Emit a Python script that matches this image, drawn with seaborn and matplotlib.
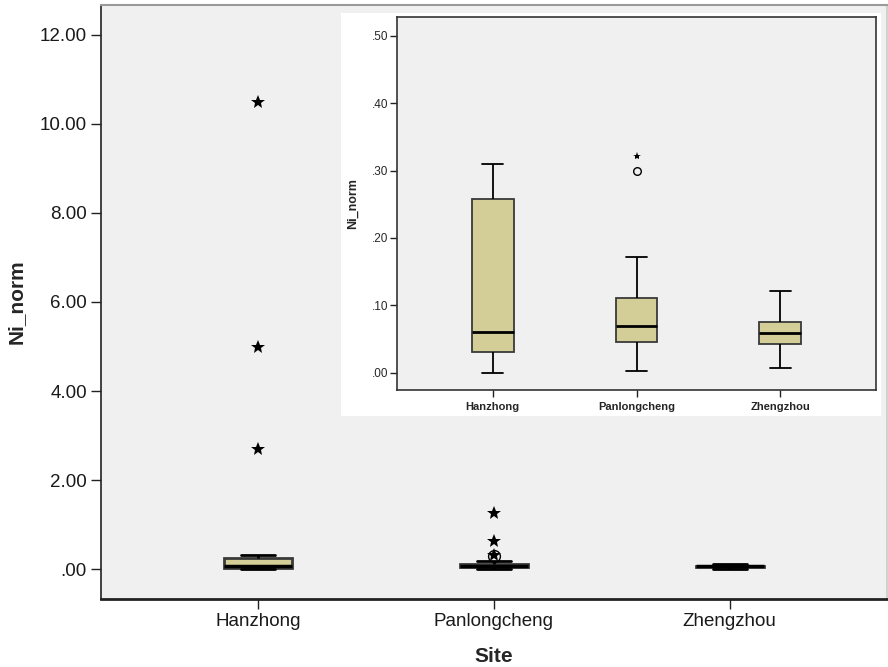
import numpy as np
import pandas as pd
import matplotlib
matplotlib.use("Agg")
import matplotlib.pyplot as plt
import seaborn as sns

# values (quartiles / whiskers / outliers per site)
sites = ["Hanzhong", "Panlongcheng", "Zhengzhou"]
hanzhong = [0.000, 0.008, 0.015, 0.022, 0.031, 0.040, 0.048, 0.055, 0.060,
            0.090, 0.140, 0.200, 0.258, 0.310, 2.70, 5.00, 10.50]
panlongcheng = [0.003, 0.015, 0.025, 0.033, 0.040, 0.046, 0.050, 0.055, 0.060,
                0.064, 0.069, 0.075, 0.082, 0.090, 0.100, 0.111, 0.171,
                0.300, 0.321, 0.620, 1.250]
zhengzhou = [0.0075, 0.020, 0.033, 0.042, 0.048, 0.054, 0.059, 0.064, 0.070,
             0.075, 0.090, 0.105, 0.121]

main_yticks = [0, 2, 4, 6, 8, 10, 12]
main_ylabels = [".00", "2.00", "4.00", "6.00", "8.00", "10.00", "12.00"]
inset_yticks = [0, 0.1, 0.2, 0.3, 0.4, 0.5]
inset_ylabels = [".00", ".10", ".20", ".30", ".40", ".50"]

df = pd.DataFrame({
    "Site": ["Hanzhong"] * len(hanzhong) + ["Panlongcheng"] * len(panlongcheng)
            + ["Zhengzhou"] * len(zhengzhou),
    "Ni_norm": hanzhong + panlongcheng + zhengzhou,
})

sns.set_theme(style="ticks")
plt.rcParams["font.family"] = ["Liberation Sans", "DejaVu Sans"]

box_color = "#D3CE97"
bg_color = "#F0F0F0"

W, H = 888, 667
fig = plt.figure(figsize=(W / 100, H / 100), dpi=100)
fig.patch.set_facecolor("white")


def px_rect(x0, y0, x1, y1):
    return [x0 / W, 1 - y1 / H, (x1 - x0) / W, (y1 - y0) / H]


def draw_boxes(ax, lw, med_lw, star_ms, circ_ms):
    sns.boxplot(data=df, x="Site", y="Ni_norm", order=sites, color=box_color,
                saturation=1, width=0.29, linecolor="#3a3a3a", linewidth=lw,
                showfliers=False,
                medianprops={"color": "black", "linewidth": med_lw},
                whiskerprops={"color": "black"},
                capprops={"color": "black"}, ax=ax)
    # SPSS style outliers: circles (1.5-3 IQR) and stars (>3 IQR)
    for i, s in enumerate(sites):
        vals = np.array(df.loc[df["Site"] == s, "Ni_norm"])
        q1, q3 = np.percentile(vals, [25, 75])
        iqr = q3 - q1
        out = vals[(vals > q3 + 1.5 * iqr) | (vals < q1 - 1.5 * iqr)]
        ext = out[(out > q3 + 3 * iqr) | (out < q1 - 3 * iqr)]
        mild = np.setdiff1d(out, ext)
        ax.plot([i] * len(mild), mild, "o", mfc="none", mec="black",
                ms=circ_ms, mew=1, zorder=5, clip_on=True)
        ax.plot([i] * len(ext), ext, "*", color="black", ms=star_ms,
                mew=0, zorder=5, clip_on=True)


# main chart
ax = fig.add_axes(px_rect(100.7, 5, 887, 599))
ax.set_facecolor(bg_color)
draw_boxes(ax, 2.0, 2.5, 10, 8.5)
ax.set_xlim(-2 / 3, 2 + 2 / 3)
ax.set_ylim(-0.674, 12.674)
ax.set_yticks(main_yticks)
ax.set_yticklabels(main_ylabels)
ax.tick_params(axis="both", labelsize=13.5, length=7, width=1,
               color="#222222", pad=3, labelcolor="#1a1a1a")
ax.set_xlabel("Site", fontsize=15, fontweight="bold", labelpad=12)
ax.set_ylabel("Ni_norm", fontsize=15, fontweight="bold")
ax.yaxis.set_label_coords(-0.095, 0.5)
for side in ["left", "bottom"]:
    ax.spines[side].set_color("#222222")
ax.spines["left"].set_linewidth(1.2)
ax.spines["bottom"].set_linewidth(2)
ax.spines["top"].set_color("#9a9a9a")
ax.spines["top"].set_linewidth(1.5)
ax.spines["right"].set_color("#cccccc")

# white panel behind the inset
bg = fig.add_axes(px_rect(341, 13, 881, 416))
bg.set_facecolor("white")
bg.set_xticks([])
bg.set_yticks([])
for sp in bg.spines.values():
    sp.set_visible(False)

# inset zoomed chart
ins = fig.add_axes(px_rect(397, 17, 876, 390))
ins.set_facecolor(bg_color)
draw_boxes(ins, 1.3, 2.0, 6, 5.5)
ins.set_xlim(-2 / 3, 2 + 2 / 3)
ins.set_ylim(-0.0257, 0.528)
ins.set_yticks(inset_yticks)
ins.set_yticklabels(inset_ylabels)
ins.tick_params(axis="y", labelsize=8.5, length=5, width=1, color="#222222", pad=1)
ins.tick_params(axis="x", labelsize=8, length=5, width=1, color="#222222", pad=4)
for lab in ins.get_xticklabels():
    lab.set_fontweight("bold")
ins.set_xlabel("")
ins.set_ylabel("Ni_norm", fontsize=9, fontweight="bold")
ins.yaxis.set_label_coords(-0.08, 0.5)
for sp in ins.spines.values():
    sp.set_color("#333333")
    sp.set_linewidth(1.2)

fig.savefig("out.png", dpi=100)
